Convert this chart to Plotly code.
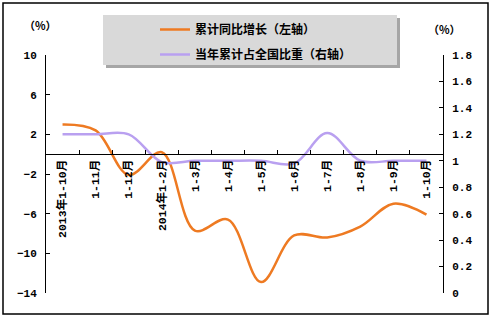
import plotly.graph_objects as go

categories = ["2013年1-10月", "1-11月", "1-12月", "2014年1-2月", "1-3月", "1-4月",
              "1-5月", "1-6月", "1-7月", "1-8月", "1-9月", "1-10月"]
growth = [3.0, 2.4, -2.1, 0.2, -7.7, -6.6, -12.9, -8.2, -8.4, -7.3, -5.0, -6.1]
share = [1.2, 1.2, 1.2, 0.99, 1.0, 1.0, 1.0, 0.98, 1.21, 1.0, 1.0, 1.0]

name_growth = "累计同比增长（左轴）"
name_share = "当年累计占全国比重（右轴）"

W, H = 491, 319
L, R, T, B = 46, 48, 55, 26
pw, ph = W - L - R, H - T - B

def px(x):
    return (x - L) / pw

def py(y):
    return (H - B - y) / ph

tickfont = dict(family="Liberation Mono, Noto Sans CJK SC", size=11, color="black", weight="bold")
cjkfont = dict(family="Liberation Mono, Noto Sans CJK SC", size=12, color="black", weight="bold")
unitfont = dict(family="Noto Sans CJK SC", size=11, color="black", weight="bold")

fig = go.Figure()
fig.add_trace(go.Scatter(x=categories, y=growth, name=name_growth, mode="lines",
                         line=dict(color="#EE7A22", width=2.5, shape="spline", smoothing=1.0),
                         legendgroup="a", yaxis="y"))
fig.add_trace(go.Scatter(x=categories, y=share, name=name_share, mode="lines",
                         line=dict(color="#B9A0F0", width=2.5, shape="spline", smoothing=1.0),
                         legendgroup="b", yaxis="y2"))

shapes = [
    # outer border
    dict(type="rect", xref="paper", yref="paper", x0=px(3), x1=px(488), y0=py(314), y1=py(3),
         line=dict(color="black", width=1.5), fillcolor="rgba(0,0,0,0)", layer="below"),
    # legend shadow
    dict(type="rect", xref="paper", yref="paper", x0=px(106), x1=px(400), y0=py(68), y1=py(18),
         line=dict(width=0), fillcolor="#A6A6A6", layer="below"),
    # legend box
    dict(type="rect", xref="paper", yref="paper", x0=px(103), x1=px(397), y0=py(65), y1=py(15),
         line=dict(width=0), fillcolor="#D9D9D9", layer="below"),
]

annotations = [
    dict(text="（%）", xref="paper", yref="paper", x=px(40), y=py(25), showarrow=False,
         font=unitfont, xanchor="center", yanchor="middle"),
    dict(text="（%）", xref="paper", yref="paper", x=px(444), y=py(29), showarrow=False,
         font=unitfont, xanchor="center", yanchor="middle"),
]

fig.update_layout(
    width=W, height=H,
    margin=dict(l=L, r=R, t=T, b=B),
    paper_bgcolor="white", plot_bgcolor="white",
    showlegend=True,
    legend=dict(x=px(155), y=py(15), xanchor="left", yanchor="top",
                bgcolor="rgba(0,0,0,0)", font=cjkfont, tracegroupgap=6,
                itemwidth=30),
    xaxis=dict(type="category", range=[-0.5, 11.5], anchor="free", position=14 / 24,
               showline=True, linecolor="black", linewidth=1,
               ticks="inside", ticklen=4, tickcolor="black", tickson="boundaries",
               tickangle=-90, tickfont=dict(family="Liberation Mono, Noto Sans CJK SC", size=11.5,
                                             color="black", weight="bold"),
               showgrid=False, zeroline=False),
    yaxis=dict(range=[-14, 10], tick0=-14, dtick=4, showline=True, linecolor="black", linewidth=1,
               ticks="inside", ticklen=4, tickcolor="black", showgrid=False, zeroline=False,
               tickfont=tickfont, ticklabelstandoff=6),
    yaxis2=dict(range=[0, 1.8], tick0=0, dtick=0.2, overlaying="y", side="right",
                showline=True, linecolor="black", linewidth=1,
                ticks="inside", ticklen=4, tickcolor="black", showgrid=False, zeroline=False,
                tickfont=tickfont, ticklabelstandoff=6),
    shapes=shapes,
    annotations=annotations,
)

fig.write_html("out.html")
